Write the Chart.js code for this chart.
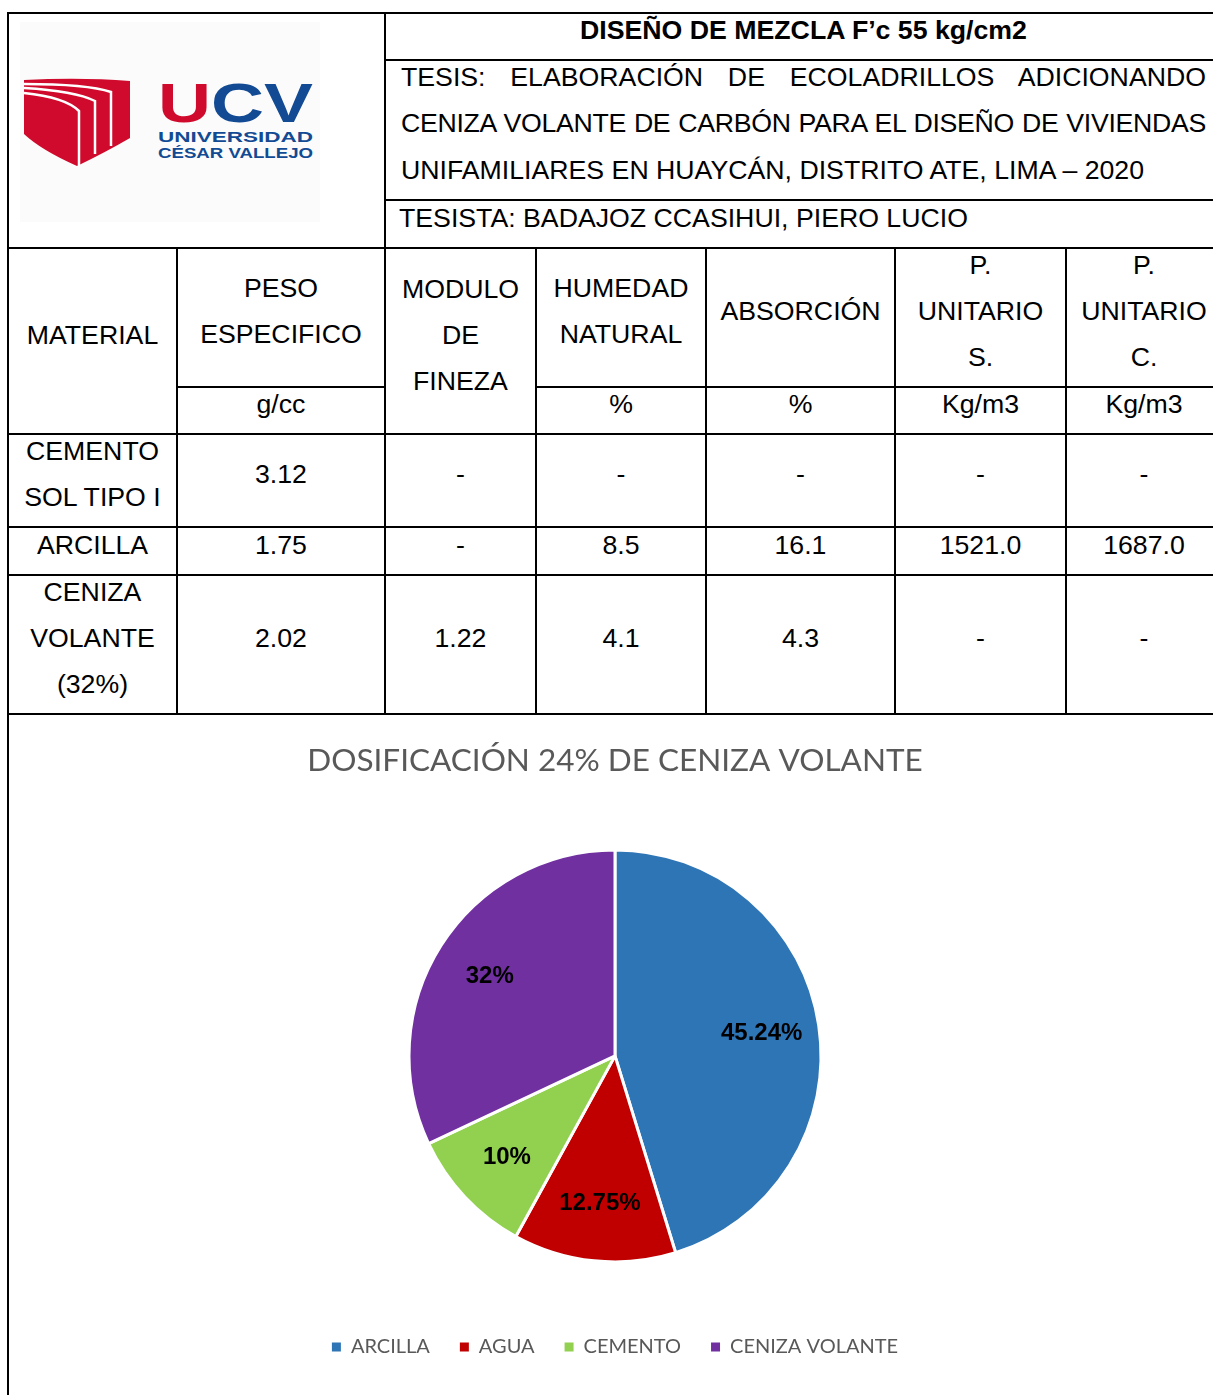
<!DOCTYPE html>
<html lang="es">
<head>
<meta charset="utf-8">
<title>Diseño de mezcla F'c 55 kg/cm2</title>
<script src="https://cdn.jsdelivr.net/npm/chart.js@4.4.1/dist/chart.umd.min.js"></script>
<style>
  html, body { margin: 0; padding: 0; background: #fff; }
  body { width: 1213px; height: 1395px; overflow: hidden; position: relative;
         font-family: "Liberation Sans", Arial, sans-serif; color: #000; }
  .cell { position: absolute; box-sizing: border-box; border: 2px solid #000;
          display: flex; align-items: center; justify-content: center; text-align: center;
          font-size: 26.7px; line-height: 46px; padding-bottom: 13px; background: #fff; }
  .tesis { display: flex; flex-direction: column; justify-content: center; align-items: stretch;
           padding: 0 15px 13px 15px; }
  .tesis div { white-space: nowrap; height: 46.5px; line-height: 46.5px; text-align: justify; }
  .tesis div.j { text-align-last: justify; }
  .tesis div.tight { letter-spacing: -0.3px; }
  .left { justify-content: flex-start; padding-left: 13px; }
  #frame { position: absolute; left: 7px; top: 713px; width: 0; height: 700px; border-left: 2px solid #000; }
  #chartBox { position: absolute; left: 10px; top: 720px; width: 1210px; height: 675px; }
</style>
</head>
<body>
<div id="table"></div>
<div id="frame"></div>
<div id="chartBox"><canvas id="pieChart"></canvas></div>

<script>
// pie data
const categories = ['ARCILLA', 'AGUA', 'CEMENTO', 'CENIZA VOLANTE'];
const shares = [45.24, 12.75, 10, 32];
const sliceColors = ['#2E75B6', '#C00000', '#92D050', '#7030A0'];

// table grid lines (px)
const X = [8, 177, 385, 536, 706, 895, 1066, 1222];
const Y = [13, 60, 200, 248, 387, 434, 527, 575, 714];

const table = document.getElementById('table');
function cell(c0, c1, r0, r1, html, cls) {
  const d = document.createElement('div');
  d.className = 'cell' + (cls ? ' ' + cls : '');
  d.style.left = (X[c0] - 1) + 'px';
  d.style.top = (Y[r0] - 1) + 'px';
  d.style.width = (X[c1] - X[c0] + 2) + 'px';
  d.style.height = (Y[r1] - Y[r0] + 2) + 'px';
  d.innerHTML = html;
  table.appendChild(d);
  return d;
}

const logo =
  '<svg width="300" height="200" viewBox="0 0 300 200" style="position:absolute;left:11px;top:8px">' +
  '<rect x="0" y="0" width="300" height="200" fill="#fbfbfb"/>' +
  '<g transform="translate(-9,0)">' +
  '<path d="M13,58 Q70,55 119,59 L119,116 Q95,130 66,144 Q30,128 13,112 Z" fill="#CF0A2C"/>' +
  '<path d="M13,62 C55,62 85,65 100,70 L100,124" fill="none" stroke="#fff" stroke-width="2.5"/>' +
  '<path d="M13,66 C48,68 72,73 84,79 L84,132" fill="none" stroke="#fff" stroke-width="2.5"/>' +
  '<path d="M13,71 C42,74 60,81 68,89 L68,144" fill="none" stroke="#fff" stroke-width="2.5"/>' +
  '</g>' +
  '<text x="138" y="100" font-family="Liberation Sans, Arial" font-weight="bold" font-size="56" textLength="155" lengthAdjust="spacingAndGlyphs"><tspan fill="#CF0A2C">U</tspan><tspan fill="#124A93">CV</tspan></text>' +
  '<text x="138" y="120" font-family="Liberation Sans, Arial" font-weight="bold" font-size="15.5" fill="#124A93" textLength="155" lengthAdjust="spacingAndGlyphs">UNIVERSIDAD</text>' +
  '<text x="138" y="136" font-family="Liberation Sans, Arial" font-weight="bold" font-size="15.5" fill="#124A93" textLength="155" lengthAdjust="spacingAndGlyphs">CÉSAR VALLEJO</text>' +
  '</svg>';
cell(0, 2, 0, 3, logo);
cell(2, 7, 0, 1, '<b>DISEÑO DE MEZCLA F’c 55 kg/cm2</b>');
cell(2, 7, 1, 2,
  '<div class="j">TESIS: ELABORACIÓN DE ECOLADRILLOS ADICIONANDO</div>' +
  '<div class="j tight">CENIZA VOLANTE DE CARBÓN PARA EL DISEÑO DE VIVIENDAS</div>' +
  '<div>UNIFAMILIARES EN HUAYCÁN, DISTRITO ATE, LIMA – 2020</div>', 'tesis');
cell(2, 7, 2, 3, 'TESISTA: BADAJOZ CCASIHUI, PIERO LUCIO', 'left');

cell(0, 1, 3, 5, 'MATERIAL');
cell(1, 2, 3, 4, 'PESO<br>ESPECIFICO');
cell(1, 2, 4, 5, 'g/cc');
cell(2, 3, 3, 5, 'MODULO<br>DE<br>FINEZA');
cell(3, 4, 3, 4, 'HUMEDAD<br>NATURAL');
cell(3, 4, 4, 5, '%');
cell(4, 5, 3, 4, 'ABSORCIÓN');
cell(4, 5, 4, 5, '%');
cell(5, 6, 3, 4, 'P.<br>UNITARIO<br>S.');
cell(5, 6, 4, 5, 'Kg/m3');
cell(6, 7, 3, 4, 'P.<br>UNITARIO<br>C.');
cell(6, 7, 4, 5, 'Kg/m3');

const rows = [
  ['CEMENTO<br>SOL TIPO I', '3.12', '-', '-', '-', '-', '-'],
  ['ARCILLA', '1.75', '-', '8.5', '16.1', '1521.0', '1687.0'],
  ['CENIZA<br>VOLANTE<br>(32%)', '2.02', '1.22', '4.1', '4.3', '-', '-']
];
rows.forEach((r, i) => r.forEach((t, c) => cell(c, c + 1, 5 + i, 6 + i, t)));

// percentage labels inside the slices
const sliceLabels = {
  id: 'sliceLabels',
  afterDatasetsDraw(chart) {
    const ctx = chart.ctx;
    const meta = chart.getDatasetMeta(0);
    const values = chart.data.datasets[0].data;
    ctx.save();
    ctx.font = 'bold 24px "Liberation Sans", Arial, sans-serif';
    ctx.fillStyle = '#000';
    ctx.textAlign = 'center';
    ctx.textBaseline = 'middle';
    meta.data.forEach((arc, i) => {
      const p = arc.getProps(['x', 'y', 'startAngle', 'endAngle', 'outerRadius'], true);
      const mid = (p.startAngle + p.endAngle) / 2;
      const r = p.outerRadius * 0.72;
      ctx.fillText(values[i] + '%', p.x + Math.cos(mid) * r, p.y + Math.sin(mid) * r);
    });
    ctx.restore();
  }
};

new Chart(document.getElementById('pieChart'), {
  type: 'pie',
  data: {
    labels: categories,
    datasets: [{
      data: shares,
      backgroundColor: sliceColors,
      borderColor: '#fff',
      borderWidth: 3,
      radius: 206
    }]
  },
  options: {
    responsive: true,
    maintainAspectRatio: false,
    animation: false,
    layout: { padding: { bottom: 28 } },
    plugins: {
      title: {
        display: true,
        text: 'DOSIFICACIÓN 24% DE CENIZA VOLANTE',
        color: '#595959',
        font: { family: 'Lato', size: 31.5, weight: 'normal' },
        padding: { top: 22, bottom: 25 }
      },
      legend: {
        position: 'bottom',
        labels: {
          boxWidth: 9,
          boxHeight: 9,
          padding: 30,
          color: '#595959',
          font: { family: 'Lato', size: 20 },
          generateLabels(chart) {
            return Chart.overrides.pie.plugins.legend.labels.generateLabels(chart)
              .map(item => Object.assign(item, { lineWidth: 0 }));
          }
        }
      },
      tooltip: { enabled: false }
    }
  },
  plugins: [sliceLabels]
});
</script>
</body>
</html>
